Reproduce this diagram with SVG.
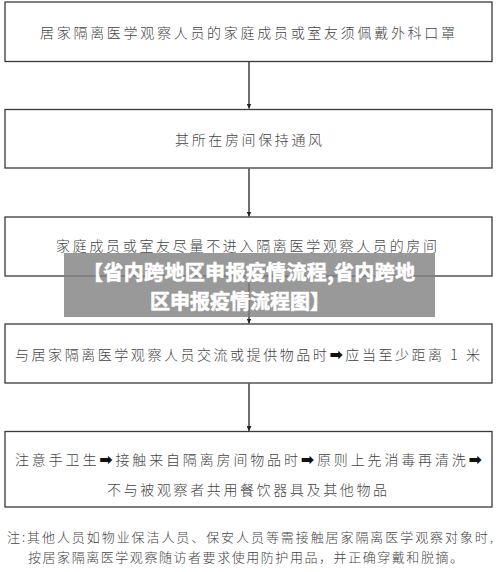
<svg xmlns="http://www.w3.org/2000/svg" width="500" height="572" viewBox="0 0 500 572">
<defs>
<style>
.box{fill:#fff;stroke:#3a3a3a;stroke-width:1.3}
.t{font-family:"Noto Sans CJK SC","Noto Sans",sans-serif;font-size:14px;fill:#444;font-weight:300}
.n{font-family:"Noto Sans CJK SC","Noto Sans",sans-serif;font-size:13px;fill:#444;font-weight:300}
.ar{font-family:"DejaVu Sans",sans-serif;font-size:16px;fill:#111;font-weight:bold}
.conn{stroke:#222;stroke-width:1.3;fill:none;marker-end:url(#ah)}
.ov{font-family:"Noto Sans CJK SC","Noto Sans",sans-serif;font-size:20px;font-weight:bold;fill:#fff;stroke:#fff;stroke-width:0.6}
</style>
<marker id="ah" viewBox="0 0 10 10" refX="10" refY="5" markerWidth="5" markerHeight="5" markerUnits="userSpaceOnUse" orient="auto">
<path d="M0,0 L10,5 L0,10 Z" fill="#222"/>
</marker>
</defs>
<rect width="500" height="572" fill="#fff"/>
<g id="connectors">
<line class="conn" x1="249" y1="62" x2="249" y2="108.5"/>
<line class="conn" x1="249" y1="168.5" x2="249" y2="216.5"/>
<line class="conn" x1="249" y1="276.5" x2="249" y2="323.5"/>
<line class="conn" x1="249" y1="383.5" x2="249" y2="431"/>
</g>
<g id="node1">
<rect class="box" x="5" y="2" width="487" height="59.5"/>
<text class="t" x="40" y="38" textLength="415" lengthAdjust="spacing">居家隔离医学观察人员的家庭成员或室友须佩戴外科口罩</text>
</g>
<g id="node2">
<rect class="box" x="5" y="109.5" width="487" height="58.5"/>
<text class="t" x="175" y="145" textLength="147" lengthAdjust="spacing">其所在房间保持通风</text>
</g>
<g id="node3">
<rect class="box" x="5" y="217" width="487" height="59"/>
<text class="t" x="56" y="251" textLength="381" lengthAdjust="spacing">家庭成员或室友尽量不进入隔离医学观察人员的房间</text>
</g>
<g id="node4">
<rect class="box" x="5" y="324" width="487" height="59"/>
<text class="t" x="15" y="360" textLength="465" lengthAdjust="spacing">与居家隔离医学观察人员交流或提供物品时<tspan class="ar">➡</tspan>应当至少距离 1 米</text>
</g>
<g id="node5">
<rect class="box" x="5" y="431.5" width="487" height="75.5"/>
<text class="t" x="15" y="465" textLength="467" lengthAdjust="spacing">注意手卫生<tspan class="ar">➡</tspan>接触来自隔离房间物品时<tspan class="ar">➡</tspan>原则上先消毒再清洗<tspan class="ar">➡</tspan></text>
<text class="t" x="107" y="495" textLength="280" lengthAdjust="spacing">不与被观察者共用餐饮器具及其他物品</text>
</g>
<g id="note">
<text class="n" x="7" y="542" textLength="486" lengthAdjust="spacing">注:其他人员如物业保洁人员、保安人员等需接触居家隔离医学观察对象时,</text>
<text class="n" x="28" y="562" textLength="435" lengthAdjust="spacing">按居家隔离医学观察随访者要求使用防护用品，并正确穿戴和脱摘。</text>
</g>
<g id="overlay">
<rect x="64" y="253" width="371" height="64" fill="#808080" fill-opacity="0.8"/>
<text class="ov" x="83" y="280" textLength="332" lengthAdjust="spacing">【省内跨地区申报疫情流程,省内跨地</text>
<text class="ov" x="150" y="309" textLength="180" lengthAdjust="spacing">区申报疫情流程图】</text>
</g>
</svg>
